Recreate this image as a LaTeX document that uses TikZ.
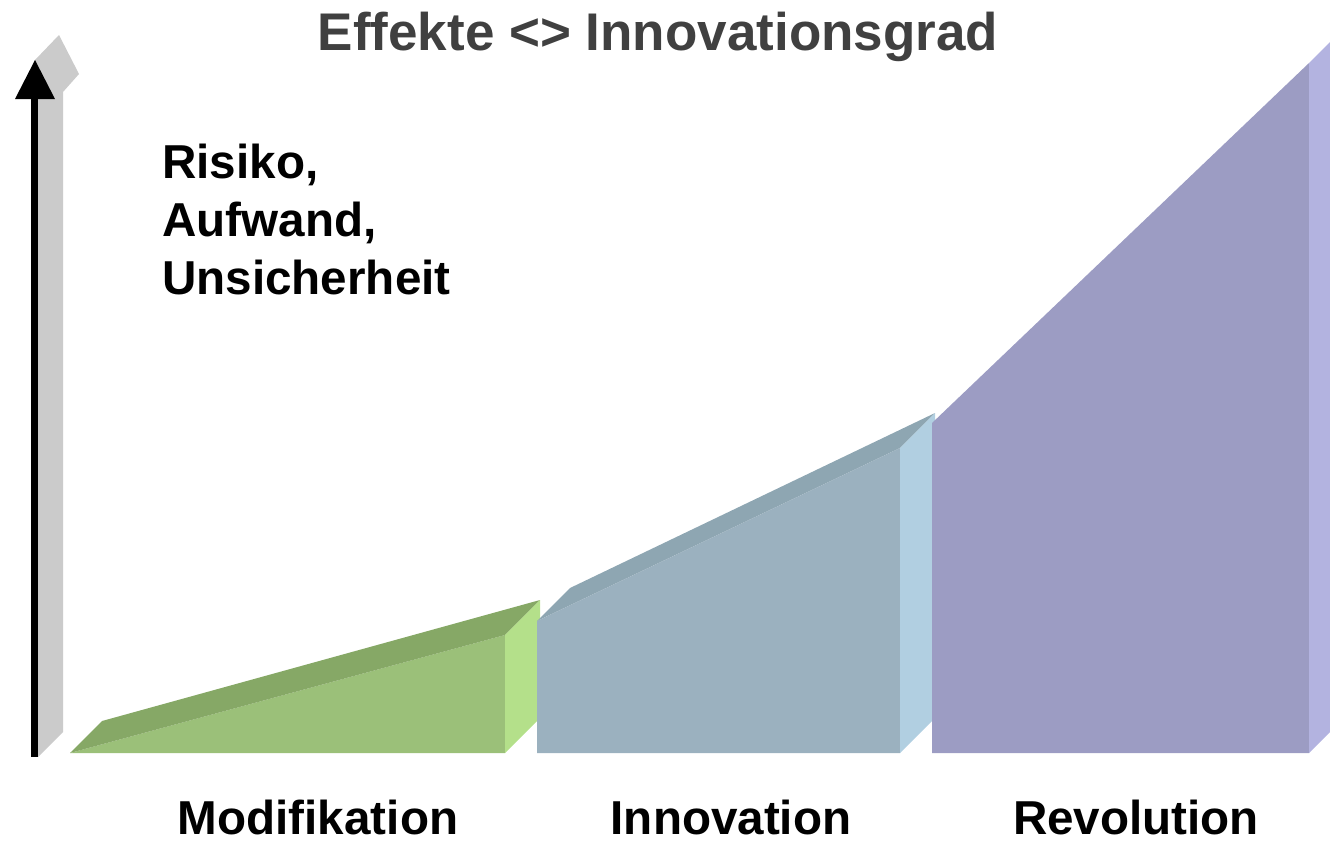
\documentclass[tikz,border=0pt]{standalone}
\usepackage{fontspec}
\setmainfont{Liberation Sans}
\definecolor{grnfront}{HTML}{9BC079}
\definecolor{grntop}{HTML}{86A866}
\definecolor{grnside}{HTML}{B4E08A}
\definecolor{blufront}{HTML}{9BB1BF}
\definecolor{blutop}{HTML}{8EA6B2}
\definecolor{bluside}{HTML}{B1CFE1}
\definecolor{purfront}{HTML}{9C9CC3}
\definecolor{purside}{HTML}{B3B3E0}
\definecolor{axisgray}{HTML}{CBCBCB}
\definecolor{titlegray}{HTML}{404040}
\tikzset{
  face/.style={draw=none},
  titletext/.style={font=\bfseries\fontsize{39.75}{48}\selectfont, text=titlegray, inner sep=0pt},
  sidetext/.style={font=\bfseries\fontsize{35.7}{43}\selectfont, inner sep=0pt, anchor=base west},
  labeltext/.style={font=\bfseries\fontsize{35.7}{43}\selectfont, inner sep=0pt, anchor=base}
}
\begin{document}
\begin{tikzpicture}[x=0.75pt,y=-0.75pt]
\useasboundingbox (0,0) rectangle (1330,844);
% axis arrow (3D)
\fill[axisgray] (35,60) -- (59,35) -- (79,74) -- (63,92) -- (63,732) -- (38,757) -- (38,99) -- (54,99) -- cycle;
\fill[black] (31,99) rectangle (38,757);
\fill[black] (15,99) -- (35,60) -- (55,99) -- cycle;
% green block
\fill[grnfront] (70,753) -- (505,635) -- (505,753) -- cycle;
\fill[grntop] (70,753) -- (102,721) -- (540,600) -- (505,635) -- cycle;
\fill[grnside] (505,635) -- (540,600) -- (540,718) -- (505,753) -- cycle;
% blue block
\fill[blutop] (537,621) -- (570,588) -- (935,413) -- (900,448) -- cycle;
\fill[blufront] (537,621) -- (900,448) -- (900,753) -- (537,753) -- cycle;
\fill[bluside] (900,448) -- (935,413) -- (935,718) -- (900,753) -- cycle;
% purple block
\fill[purfront] (932,423) -- (1309,63) -- (1309,753) -- (932,753) -- cycle;
\fill[purside] (1309,63) -- (1330,42) -- (1330,732) -- (1309,753) -- cycle;
% texts
\node[titletext, anchor=base] (title) at (658,50) {Effekte <> Innovationsgrad};
\node[sidetext] (r1) at (162,178) {Risiko,};
\node[sidetext] (r2) at (162,236) {Aufwand,};
\node[sidetext] (r3) at (162,294) {Unsicherheit};
\node[labeltext] (l1) at (318,834) {Modifikation};
\node[labeltext] (l2) at (731,834) {Innovation};
\node[labeltext] (l3) at (1136,834) {Revolution};
\end{tikzpicture}
\end{document}
